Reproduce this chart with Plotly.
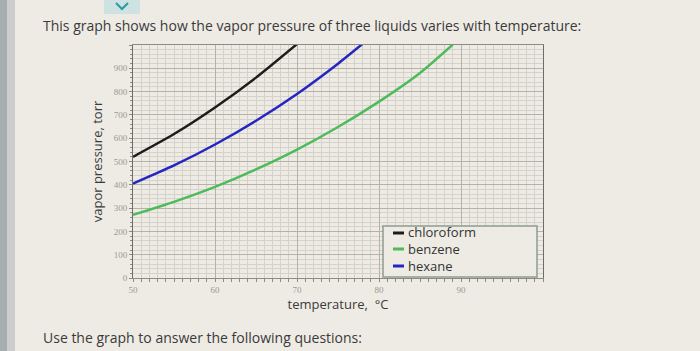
import plotly.graph_objects as go

# ---- data ----
chloroform_t = [50, 55, 60, 65, 70]
chloroform_p = [520, 618, 732, 860, 1004]
hexane_t = [50, 55, 60, 65, 70, 75, 78]
hexane_p = [405, 483, 573, 675, 790, 920, 1005]
benzene_t = [50, 55, 60, 65, 70, 75, 80, 85, 89]
benzene_p = [271, 327, 391, 466, 551, 648, 757, 880, 1002]

series_names = ["chloroform", "benzene", "hexane"]
series_colors = ["#1c1c1c", "#4dbb5a", "#2525c2"]

x_ticks = [50, 60, 70, 80, 90, 100]
x_labels = ["50", "60", "70", "80", "90", ""]
y_ticks = [0, 100, 200, 300, 400, 500, 600, 700, 800, 900, 1000]
y_labels = ["0", "100", "200", "300", "400", "500", "600", "700", "800", "900", ""]

BG = "#eeebe5"
W, H = 700, 351
L, R, T, B = 133, 543, 45, 278


def px(x):
    return (x - L) / (R - L)


def py(y):
    return (B - y) / (B - T)


fig = go.Figure()
data = {
    "chloroform": (chloroform_t, chloroform_p),
    "benzene": (benzene_t, benzene_p),
    "hexane": (hexane_t, hexane_p),
}
for name, color in zip(series_names, series_colors):
    t, p = data[name]
    fig.add_trace(go.Scatter(x=t, y=p, mode="lines", name=name,
                             line=dict(color=color, width=2.5, shape="spline", smoothing=0.6),
                             showlegend=False, cliponaxis=True))

tickfont = dict(family="Liberation Serif", size=9, color="#9d9890")
fig.update_xaxes(range=[50, 100], tickvals=x_ticks, ticktext=x_labels,
                 showgrid=True, gridcolor="#b6b2ab", gridwidth=1,
                 showline=True, linecolor="#8d8983", linewidth=1, mirror=True,
                 ticks="outside", ticklen=3, tickcolor="#8d8983", tickfont=tickfont,
                 minor=dict(dtick=1, tick0=50, showgrid=True, gridcolor="#d5d2cb",
                            ticks="outside", ticklen=3, tickcolor="#8d8983"),
                 zeroline=False,
                 title=dict(text="temperature,  °C", standoff=5,
                            font=dict(family="Open Sans", size=13, color="#3a3a3a")))
fig.update_yaxes(range=[0, 1000], tickvals=y_ticks, ticktext=y_labels,
                 showgrid=True, gridcolor="#b6b2ab", gridwidth=1,
                 showline=True, linecolor="#6f6b66", linewidth=1, mirror=True,
                 ticks="outside", ticklen=3, tickcolor="#8d8983", tickfont=tickfont,
                 minor=dict(dtick=20, tick0=0, showgrid=True, gridcolor="#d5d2cb",
                            ticks="outside", ticklen=2, tickcolor="#8d8983"),
                 zeroline=False,
                 title=dict(text="vapor pressure, torr", standoff=8,
                            font=dict(family="Open Sans", size=13, color="#3a3a3a")))

shapes = []
# left gray strip of the page
shapes.append(dict(type="rect", xref="paper", yref="paper", x0=px(0), x1=px(7), y0=py(H), y1=py(0),
                   fillcolor="#a7aeb0", line=dict(width=0), layer="below"))
shapes.append(dict(type="rect", xref="paper", yref="paper", x0=px(7), x1=px(15), y0=py(H), y1=py(0),
                   fillcolor="#cbcecd", line=dict(width=0), layer="below"))
# icon at top
shapes.append(dict(type="rect", xref="paper", yref="paper", x0=px(104), x1=px(140), y0=py(14), y1=py(-6),
                   fillcolor="#cfe2e2", line=dict(width=0), layer="above"))
shapes.append(dict(type="path", xref="paper", yref="paper",
                   path=f"M {px(116)} {py(3)} L {px(122)} {py(9)} L {px(128)} {py(3)}",
                   line=dict(color="#2a9aa3", width=2), layer="above"))
# legend box
lx0, lx1, ly0, ly1 = 383, 537, 226, 277
shapes.append(dict(type="rect", xref="paper", yref="paper", x0=px(lx0), x1=px(lx1), y0=py(ly1), y1=py(ly0),
                   fillcolor=BG, line=dict(color="#8e9c8e", width=1.5), layer="above"))

annotations = []
row_y = [233, 249, 266]
for name, color, yy in zip(series_names, series_colors, row_y):
    shapes.append(dict(type="line", xref="paper", yref="paper", x0=px(393), x1=px(404), y0=py(yy), y1=py(yy),
                       line=dict(color=color, width=3), layer="above"))
annotations.append(dict(text="<br>".join(series_names), xref="paper", yref="paper",
                        x=px(407), y=py(sum(row_y) / 3), xanchor="left", yanchor="middle",
                        align="left", showarrow=False, borderpad=0,
                        font=dict(family="Open Sans", size=13, color="#333333")))

annotations.append(dict(text="This graph shows how the vapor pressure of three liquids varies with temperature:",
                        xref="paper", yref="paper", x=px(41), y=py(25), xanchor="left", yanchor="middle",
                        showarrow=False, font=dict(family="Open Sans", size=14, color="#3a3a3a")))
annotations.append(dict(text="Use the graph to answer the following questions:",
                        xref="paper", yref="paper", x=px(41), y=py(337), xanchor="left", yanchor="middle",
                        showarrow=False, font=dict(family="Open Sans", size=14, color="#3a3a3a")))

fig.update_layout(width=W, height=H, margin=dict(l=L, r=W - R, t=T, b=H - B),
                  paper_bgcolor=BG, plot_bgcolor=BG, showlegend=False,
                  shapes=shapes, annotations=annotations)

fig.write_html("out.html")
